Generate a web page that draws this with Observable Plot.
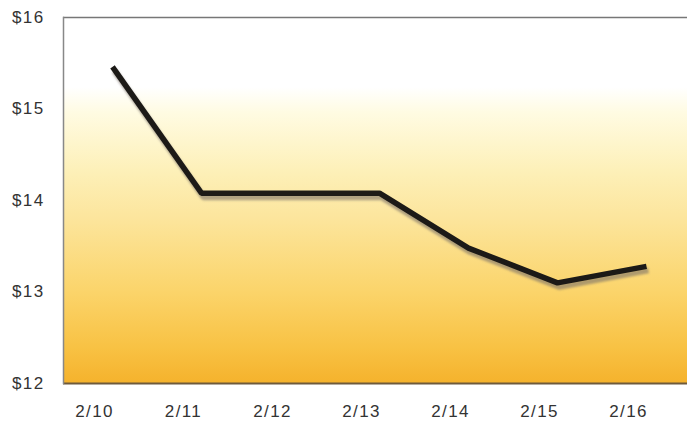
<!DOCTYPE html>
<html>
<head>
<meta charset="utf-8">
<script src="https://cdn.jsdelivr.net/npm/d3@7"></script>
<script src="https://cdn.jsdelivr.net/npm/@observablehq/plot@0.6"></script>
<style>
  html, body { margin: 0; padding: 0; background: #fff; }
  #chart svg { display: block; }
  #chart svg text { font-size: 17px !important; letter-spacing: 1.4px; font-family: 'Liberation Sans', Arial, sans-serif !important; }
</style>
</head>
<body>
<div id="chart"></div>
<script>
const dates = ["2/10", "2/11", "2/12", "2/13", "2/14", "2/15", "2/16"];
const prices = [15.46, 14.08, 14.08, 14.08, 13.48, 13.10, 13.28];
const yTicks = [12, 13, 14, 15, 16];

const data = dates.map((d, i) => ({date: d, price: prices[i]}));

const gradientDefs = () => {
  const defs = d3.create("svg:defs");
  const g = defs.append("linearGradient")
    .attr("id", "bg").attr("x1", 0).attr("y1", 0).attr("x2", 0).attr("y2", 1);
  [[0, "#ffffff"], [0.19, "#ffffff"], [0.26, "#fffbe2"], [0.42, "#fdf0b8"],
   [0.55, "#fce59c"], [0.75, "#fbd46a"], [0.9, "#f8c244"], [1, "#f5b22c"]]
    .forEach(([o, c]) => g.append("stop").attr("offset", o).attr("stop-color", c));
  const f = defs.append("filter").attr("id", "blur").attr("x", "-10%").attr("y", "-10%").attr("width", "120%").attr("height", "120%");
  f.append("feGaussianBlur").attr("stdDeviation", 1.2);
  return defs.node();
};

const chart = Plot.plot({
  width: 687,
  height: 421,
  marginLeft: 63,
  marginRight: 0,
  marginTop: 17,
  marginBottom: 38,
  style: {fontFamily: "'Liberation Sans', Arial, sans-serif", fontSize: "17px", color: "#333", background: "#fff"},
  x: {type: "point", domain: dates, insetLeft: 47, insetRight: 39, padding: 0, label: null},
  y: {domain: [12, 16], label: null},
  marks: [
    gradientDefs,
    Plot.frame({fill: "url(#bg)", stroke: null}),
    Plot.ruleY([16], {stroke: "#777", strokeWidth: 1.5}),
    Plot.ruleY([12], {stroke: "#6e5a3c", strokeWidth: 2}),
    Plot.frame({anchor: "left", stroke: "#888", strokeWidth: 1.5}),
    Plot.line(data, {x: "date", y: "price", stroke: "#7a7268", strokeOpacity: 0.6, strokeWidth: 6, dx: 2, dy: 4, strokeLinecap: "butt", strokeLinejoin: "miter", render: (i, s, v, d, c, next) => { const g = next(i, s, v, d, c); g.setAttribute("filter", "url(#blur)"); return g; }}),
    Plot.line(data, {x: "date", y: "price", stroke: "#1c1a17", strokeWidth: 5.5, strokeLinecap: "butt", strokeLinejoin: "miter"}),
    Plot.axisY(yTicks, {tickSize: 0, tickPadding: 19, tickFormat: d => "$" + d, fill: "#333", fontSize: 17}),
    Plot.axisX(dates, {tickSize: 0, tickPadding: 21, dx: -18, fill: "#333", fontSize: 17})
  ]
});
document.getElementById("chart").appendChild(chart);
</script>
</body>
</html>
